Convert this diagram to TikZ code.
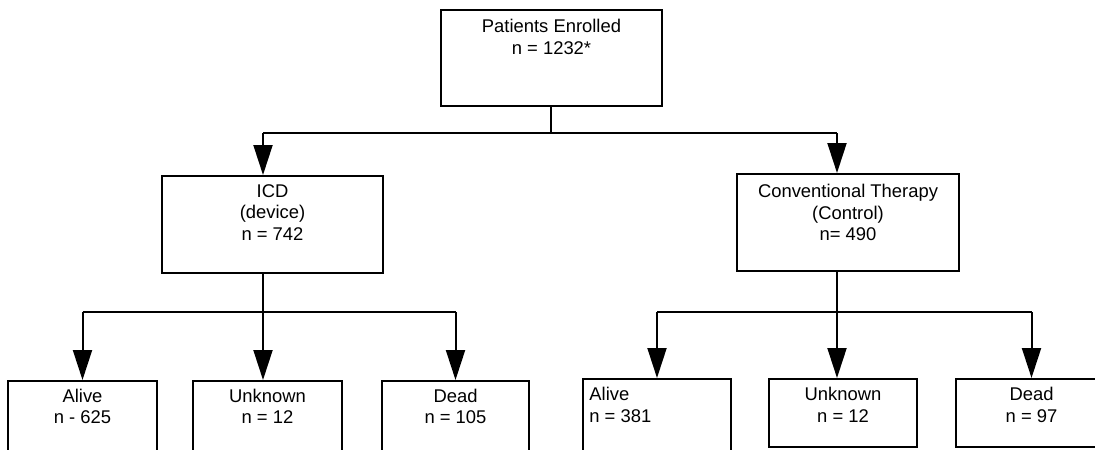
\documentclass[tikz,border=0pt]{standalone}
\usepackage{fontspec}
\setmainfont{Liberation Sans}
\usetikzlibrary{arrows.meta}

\begin{document}
\begin{tikzpicture}[x=0.5pt, y=-0.5pt,
	box/.style={draw, line width=1pt, inner sep=0pt},
	txt/.style={anchor=north, align=center, inner sep=0pt, font=\fontsize{9.2}{10.75}\selectfont},
	ln/.style={line width=1pt},
	arr/.style={line width=1pt, -{Triangle[length=15pt, width=9.5pt]}}]
	
	\useasboundingbox (0,0) rectangle (1095,449);
	\clip (0,0) rectangle (1095,449);
	
	% boxes
	\node [box, minimum width=110.5pt, minimum height=48pt] (enrol) at (551.5,58) {};
	\node [box, minimum width=110.5pt, minimum height=48.5pt] (icd) at (272.5,224.5) {};
	\node [box, minimum width=111pt, minimum height=48.5pt] (conv) at (848,222.5) {};
	
	\node [box, minimum width=74.5pt, minimum height=40pt] (la) at (82.5,421) {};
	\node [box, minimum width=74.5pt, minimum height=40pt] (lu) at (267.5,421) {};
	\node [box, minimum width=73.5pt, minimum height=40pt] (ld) at (455.5,421) {};
	\node [box, minimum width=74pt, minimum height=41pt] (ra) at (657,420) {};
	\node [box, minimum width=74pt, minimum height=34pt] (ru) at (843,413) {};
	\node [box, minimum width=75.5pt, minimum height=34pt] (rd) at (1031.5,413) {};
	
	% texts
	\node [txt] (enrol-t) at ([yshift=-4.9pt]enrol.north) {Patients Enrolled\\n = 1232*};
	\node [txt] (icd-t) at ([yshift=-4.4pt]icd.north) {ICD\\(device)\\n = 742};
	\node [txt] (conv-t) at ([yshift=-5.6pt]conv.north) {Conventional Therapy\\(Control)\\n= 490};
	
	\node [txt] (la-t) at ([yshift=-4.3pt]la.north) {Alive\\n - 625};
	\node [txt] (lu-t) at ([yshift=-4.3pt]lu.north) {Unknown\\n = 12};
	\node [txt] (ld-t) at ([yshift=-4.3pt]ld.north) {Dead\\n = 105};
	\node [txt, anchor=north west, align=left] (ra-t) at ([xshift=3.5pt, yshift=-4.6pt]ra.north west) {Alive\\n = 381};
	\node [txt] (ru-t) at ([yshift=-4.6pt]ru.north) {Unknown\\n = 12};
	\node [txt] (rd-t) at ([yshift=-4.6pt]rd.north) {Dead\\n = 97};
	
	% connectors
	\coordinate (j0) at (551,133);
	\coordinate (jl) at (263,133);
	\coordinate (jr) at (837,133);
	\coordinate (jlb) at (263,312);
	\coordinate (jrb) at (837,312);
	
	\draw [ln] (enrol.south -| j0) -- (j0);
	\draw [ln] (jl) -- (jr);
	\draw [arr] (jl) -- (jl |- icd.north);
	\draw [arr] (jr) -- (jr |- conv.north);
	
	\draw [ln] (jl |- icd.south) -- (jlb);
	\draw [ln] (la |- jlb) -- (ld |- jlb);
	\draw [arr] (la |- jlb) -- (la.north);
	\draw [arr] (jlb) -- (jlb |- lu.north);
	\draw [arr] (ld |- jlb) -- (ld.north);
	
	\draw [ln] (jr |- conv.south) -- (jrb);
	\draw [ln] (ra |- jrb) -- (rd |- jrb);
	\draw [arr] (ra |- jrb) -- (ra.north);
	\draw [arr] (jrb) -- (jrb |- ru.north);
	\draw [arr] (rd |- jrb) -- (rd.north);
	
\end{tikzpicture}
\end{document}
